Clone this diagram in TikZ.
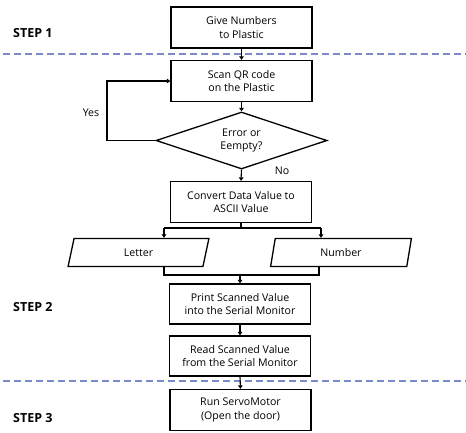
\documentclass[tikz,border=0pt]{standalone}
\usepackage{fontspec}
\setmainfont{Open Sans}
\usetikzlibrary{shapes.geometric,arrows.meta}
\definecolor{dashblue}{RGB}{124,138,204}
\tikzset{
  box/.style={draw=black, line width=1.3pt, rectangle, minimum width=141pt, minimum height=41pt, inner sep=0pt, align=center, font=\fontsize{10.6}{13.5}\selectfont},
  dec/.style={draw=black, line width=1.3pt, diamond, aspect=3, minimum width=171pt, minimum height=57pt, inner sep=0pt, align=center, font=\fontsize{10.6}{13.5}\selectfont},
  para/.style={draw=black, line width=1.3pt, trapezium, trapezium left angle=80, trapezium right angle=100, trapezium stretches=true, minimum width=141pt, minimum height=28pt, inner sep=0pt, font=\fontsize{10.6}{13.5}\selectfont},
  conn/.style={draw=black, line width=1.1pt},
  arr/.style={conn, -{Triangle[length=3.5pt,width=4.5pt]}},
  steplabel/.style={font=\bfseries\fontsize{12.5}{14}\selectfont, anchor=west, inner sep=0pt},
  lbl/.style={font=\fontsize{10.6}{13.5}\selectfont, inner sep=0pt},
  sep/.style={draw=dashblue, line width=1.2pt, dash pattern=on 7pt off 4pt}
}
\begin{document}
\begin{tikzpicture}[x=1pt,y=-1pt]
\useasboundingbox (0,0) rectangle (466,432);
\node[box] (b1) at (241.5,27.5) {Give Numbers\\to Plastic};
\node[box] (b2) at (241.5,81) {Scan QR code\\on the Plastic};
\node[dec] (d) at (241.5,140.5) {Error or\\Eempty?};
\node[box] (b3) at (241,202) {Convert Data Value to\\ASCII Value};
\node[para] (pl) at (138.5,252.5) {Letter};
\node[para] (pn) at (341,252.5) {Number};
\node[box, minimum height=40pt] (b4) at (240,304) {Print Scanned Value\\into the Serial Monitor};
\node[box, minimum height=40pt] (b5) at (240,356) {Read Scanned Value\\from the Serial Monitor};
\node[box] (b6) at (240.5,410) {Run ServoMotor\\(Open the door)};

\node[steplabel] (s1) at (13,33) {STEP 1};
\node[steplabel] (s2) at (13,307) {STEP 2};
\node[steplabel] (s3) at (13,418) {STEP 3};

\coordinate (l1a) at (3,54);
\coordinate (l1b) at (466,54);
\coordinate (l2a) at (3,381);
\coordinate (l2b) at (466,381);
\draw[sep] (l1a) -- (l1b);
\draw[sep] (l2a) -- (l2b);

\draw[arr] (b1.south) -- (b2.north);
\draw[arr] (b2.south) -- (d.north);
\coordinate (loop) at (107,140.5);
\draw[arr] (d.west) -- (loop) |- (b2.west);
\node[lbl] (yes) at (91,113) {Yes};
\draw[arr] (d.south) -- (b3.north);
\node[lbl] (no) at (282,171) {No};

\coordinate (sp) at (241,228);
\coordinate (spl) at (164,228);
\coordinate (spr) at (321,228);
\draw[conn] (b3.south) -- (sp);
\draw[conn] (spl) -- (spr);
\draw[arr] (spl) -- (spl |- pl.north);
\draw[arr] (spr) -- (spr |- pn.north);

\coordinate (ml) at (164,275);
\coordinate (mr) at (319,275);
\coordinate (mc) at (240,275);
\draw[conn] (ml |- pl.south) -- (ml) -- (mr) -- (mr |- pn.south);
\draw[arr] (mc) -- (b4.north);
\draw[arr] (b4.south) -- (b5.north);
\draw[arr] (b5.south) -- (b6.north);
\end{tikzpicture}
\end{document}
